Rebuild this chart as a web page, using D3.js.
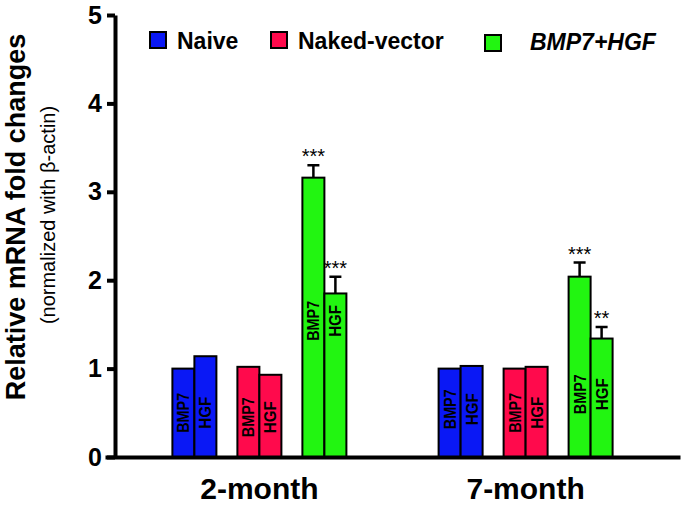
<!DOCTYPE html>
<html>
<head>
<meta charset="utf-8">
<script src="https://cdn.jsdelivr.net/npm/d3@7"></script>
<style>
  body { margin: 0; background: #fff; }
  svg { display: block; font-family: Arial, "Liberation Sans", sans-serif; }
</style>
</head>
<body>
<svg width="683" height="506"></svg>
<script>
var times = ["2-month", "7-month"];
var groups = ["Naive", "Naked-vector", "BMP7+HGF"];
var genes = ["BMP7", "HGF"];
var colors = ["#0a18f5", "#ff0a4c", "#22f511"];

// means [time][group][gene]
var means = [
  [[1.00, 1.14], [1.02, 0.93], [3.16, 1.85]],
  [[1.00, 1.03], [1.00, 1.02], [2.04, 1.34]]
];
// error bar tops (null = none)
var errTop = [
  [[null, null], [null, null], [3.30, 2.04]],
  [[null, null], [null, null], [2.20, 1.47]]
];
var stars = [
  [["", ""], ["", ""], ["***", "***"]],
  [["", ""], ["", ""], ["***", "**"]]
];
// where the rotated gene label sits in each pair (y value)
var labelAt = [[0.50, 0.45, 1.54], [0.54, 0.50, 0.71]];
var yTicks = [0, 1, 2, 3, 4, 5];

var svg = d3.select("svg");

var y = d3.scaleLinear().domain([0, 5]).range([457, 15]);
var x0 = d3.scaleBand().domain(times).range([105, 680]).paddingInner(0).paddingOuter(0.08);
var x1 = d3.scalePoint().domain(groups).range([x0.bandwidth() / 2 - 65, x0.bandwidth() / 2 + 65]);
var x2 = d3.scaleBand().domain(genes).range([-22, 22]);

// bars
var rows = [];
times.forEach(function(t, ti) {
  groups.forEach(function(g, gi) {
    genes.forEach(function(ge, ei) {
      rows.push({t: t, ti: ti, g: g, gi: gi, ge: ge, ei: ei,
        v: means[ti][gi][ei], e: errTop[ti][gi][ei], s: stars[ti][gi][ei],
        lab: labelAt[ti][gi]});
    });
  });
});
function bx(d) { return x0(d.t) + x1(d.g) + x2(d.ge); }

var bars = svg.append("g");

// error bars first so bars cover their base
bars.selectAll(".err").data(rows.filter(function(d) { return d.e != null; }))
  .enter().append("path")
  .attr("d", function(d) {
    var cx = bx(d) + x2.bandwidth() / 2;
    return "M" + cx + "," + y(d.v) + "V" + y(d.e) + "M" + (cx - 6) + "," + y(d.e) + "H" + (cx + 6);
  })
  .attr("stroke", "#000").attr("stroke-width", 2.5).attr("fill", "none");

bars.selectAll("rect").data(rows).enter().append("rect")
  .attr("x", bx)
  .attr("y", function(d) { return y(d.v); })
  .attr("width", x2.bandwidth())
  .attr("height", function(d) { return y(0) - y(d.v); })
  .attr("fill", function(d) { return colors[d.gi]; })
  .attr("stroke", "#000").attr("stroke-width", 2);

bars.selectAll(".lab").data(rows).enter().append("text")
  .attr("transform", function(d) {
    return "translate(" + (bx(d) + x2.bandwidth() / 2 + 6) + "," + y(d.lab) + ") rotate(-90)";
  })
  .attr("text-anchor", "middle")
  .attr("font-size", 17).attr("font-weight", "bold")
  .attr("textLength", function(d) { return d.ge == "BMP7" ? 40 : 32; })
  .attr("lengthAdjust", "spacingAndGlyphs")
  .text(function(d) { return d.ge; });

bars.selectAll(".star").data(rows.filter(function(d) { return d.s; }))
  .enter().append("text")
  .attr("x", function(d) { return bx(d) + x2.bandwidth() / 2; })
  .attr("y", function(d) { return y(d.e) - 2; })
  .attr("text-anchor", "middle")
  .attr("font-size", 20)
  .text(function(d) { return d.s; });

// axes
var yAxis = svg.append("g").attr("transform", "translate(115,0)")
  .call(d3.axisLeft(y).tickValues(yTicks).tickFormat(d3.format("d")).tickSize(8).tickSizeOuter(0).tickPadding(5));
yAxis.select(".domain").attr("stroke-width", 4);
yAxis.selectAll(".tick line").attr("stroke-width", 4);
yAxis.selectAll(".tick text").attr("font-size", 25).attr("font-weight", "bold").attr("fill", "#000")
  .attr("font-family", "Arial, 'Liberation Sans', sans-serif");

var xAxis = svg.append("g").attr("transform", "translate(0,457)")
  .call(d3.axisBottom(x0).tickSize(0).tickSizeOuter(0).tickPadding(21));
xAxis.select(".domain").attr("stroke-width", 4);
xAxis.selectAll(".tick text").attr("font-size", 30).attr("font-weight", "bold").attr("fill", "#000")
  .attr("font-family", "Arial, 'Liberation Sans', sans-serif");

// axis titles
svg.append("text")
  .attr("transform", "translate(25,217) rotate(-90)")
  .attr("text-anchor", "middle")
  .attr("font-size", 27).attr("font-weight", "bold")
  .text("Relative mRNA fold changes");
svg.append("text")
  .attr("transform", "translate(55,215) rotate(-90)")
  .attr("text-anchor", "middle")
  .attr("font-size", 20)
  .text("(normalized with β-actin)");

// legend
var legX = [150, 271, 485];
var legY = [32, 32, 35];
var leg = svg.append("g").selectAll("g").data(groups).enter().append("g")
  .attr("transform", function(d, i) { return "translate(" + legX[i] + "," + legY[i] + ")"; });
leg.append("rect").attr("width", 16).attr("height", 16)
  .attr("fill", function(d, i) { return colors[i]; })
  .attr("stroke", "#000").attr("stroke-width", 2);
leg.append("text")
  .attr("x", function(d, i) { return i == 2 ? 45 : 27; })
  .attr("y", function(d, i) { return i == 2 ? 15 : 17; })
  .attr("font-size", 23).attr("font-weight", "bold")
  .attr("font-style", function(d, i) { return i == 2 ? "italic" : "normal"; })
  .text(function(d) { return d; });
</script>
</body>
</html>
